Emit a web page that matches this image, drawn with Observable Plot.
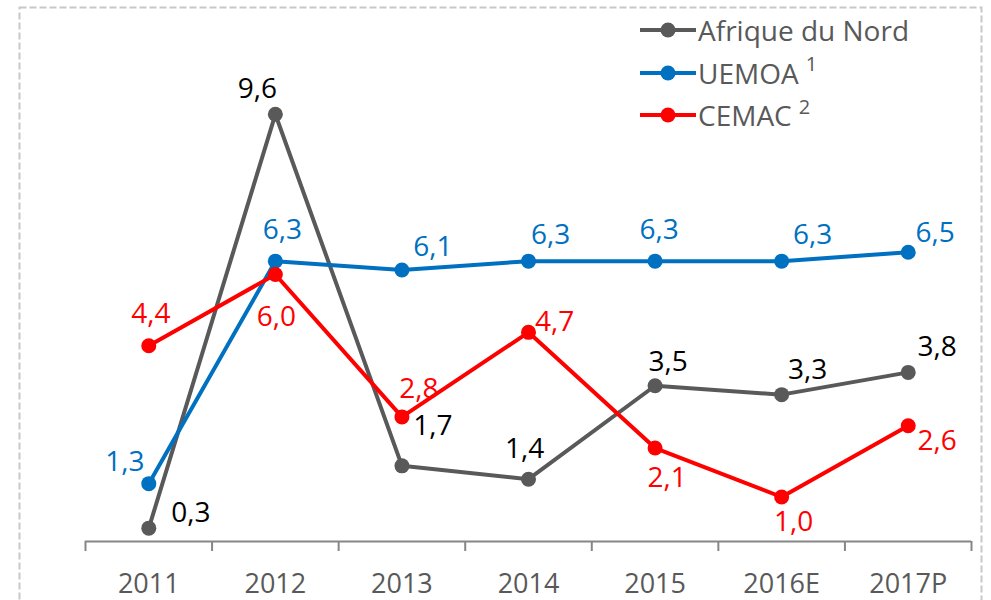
<!DOCTYPE html>
<html>
<head>
<meta charset="utf-8">
<script src="https://cdn.jsdelivr.net/npm/d3@7"></script>
<script src="https://cdn.jsdelivr.net/npm/@observablehq/plot@0.6"></script>
<style>
  body { margin: 0; background: #fff; font-family: "Open Sans", sans-serif; }
  #wrap { position: relative; width: 991px; height: 600px; overflow: hidden; }
  #legend { position: absolute; left: 640px; top: 9px; }
  .row { display: flex; align-items: center; height: 42.5px; font-size: 28px; color: #595959; white-space: nowrap; }
  .row svg { margin-right: 2px; }
  .sup { font-size: 20px; position: relative; top: -9px; margin-left: 7px; }
</style>
</head>
<body>
<div id="wrap">
  <div id="chart"></div>
  <div id="legend"></div>
</div>
<script>
// ---- data ----
const years = ["2011", "2012", "2013", "2014", "2015", "2016E", "2017P"];
const afriqueNord = [0.3, 9.6, 1.7, 1.4, 3.5, 3.3, 3.8];
const uemoa = [1.3, 6.3, 6.1, 6.3, 6.3, 6.3, 6.5];
const cemac = [4.4, 6.0, 2.8, 4.7, 2.1, 1.0, 2.6];
const seriesNames = ["Afrique du Nord", "UEMOA", "CEMAC"];
const seriesSup = ["", "1", "2"];

// ---- presentation ----
const lineColors = ["#595959", "#0070C0", "#FF0000"];
const labelColors = ["#000000", "#0070C0", "#FF0000"];
const labelOffsets = [
  [[42, -15], [-18, -25], [31, -40], [-4, -30], [13, -24], [26, -25], [29, -25]],
  [[-24, -22], [7, -31], [31, -23], [22, -26], [4, -31], [31, -26], [27, -19]],
  [[2, -32], [1, 43], [17, -28], [26, -10], [12, 30], [12, 25], [29, 15]]
];

const seriesValues = [afriqueNord, uemoa, cemac];
const fmt = v => v.toFixed(1).replace(".", ",");
const idx = d3.range(years.length);
const edges = d3.range(years.length + 1).map(i => i - 0.5);

const marks = [
  Plot.frame({stroke: "#c8c8c8", strokeWidth: 2, strokeDasharray: "7,3",
              insetLeft: -66, insetRight: -10, insetTop: 0, insetBottom: -200}),
  Plot.ruleY([0], {stroke: "#868686", strokeWidth: 2}),
  Plot.axisX(edges, {tickSize: 10, tickFormat: () => "", stroke: "#868686", strokeWidth: 2, label: null}),
  Plot.axisX(idx, {tickSize: 0, tickPadding: 32, tickFormat: i => years[i], fontSize: 27,
                   color: "#595959", label: null})
];

seriesValues.forEach((vals, s) => {
  const data = vals.map((v, i) => ({i, v}));
  marks.push(Plot.line(data, {x: "i", y: "v", stroke: lineColors[s], strokeWidth: 4}));
  marks.push(Plot.dot(data, {x: "i", y: "v", r: 7.5, fill: lineColors[s], stroke: "none"}));
});
seriesValues.forEach((vals, s) => {
  vals.forEach((v, i) => {
    const [dx, dy] = labelOffsets[s][i];
    marks.push(Plot.text([{i, v}], {x: "i", y: "v", text: d => fmt(d.v), dx, dy,
      fill: labelColors[s], fontSize: 28, textAnchor: "middle", lineAnchor: "middle"}));
  });
});

const chart = Plot.plot({
  width: 991,
  height: 600,
  marginLeft: 85,
  marginRight: 20,
  marginTop: 7,
  marginBottom: 59,
  x: {type: "linear", domain: [-0.5, 6.5], axis: null},
  y: {domain: [0, 12], axis: null},
  style: {fontFamily: "'Open Sans', sans-serif", background: "transparent", overflow: "visible"},
  marks
});
document.getElementById("chart").appendChild(chart);

// ---- legend ----
const legend = document.getElementById("legend");
seriesNames.forEach((name, s) => {
  const row = document.createElement("div");
  row.className = "row";
  row.innerHTML =
    `<svg width="56" height="20"><line x1="0" x2="56" y1="10" y2="10" stroke="${lineColors[s]}" stroke-width="4"/>` +
    `<circle cx="28" cy="10" r="7.5" fill="${lineColors[s]}"/></svg>` +
    `<span>${name}</span>` + (seriesSup[s] ? `<span class="sup">${seriesSup[s]}</span>` : "");
  legend.appendChild(row);
});
</script>
</body>
</html>
